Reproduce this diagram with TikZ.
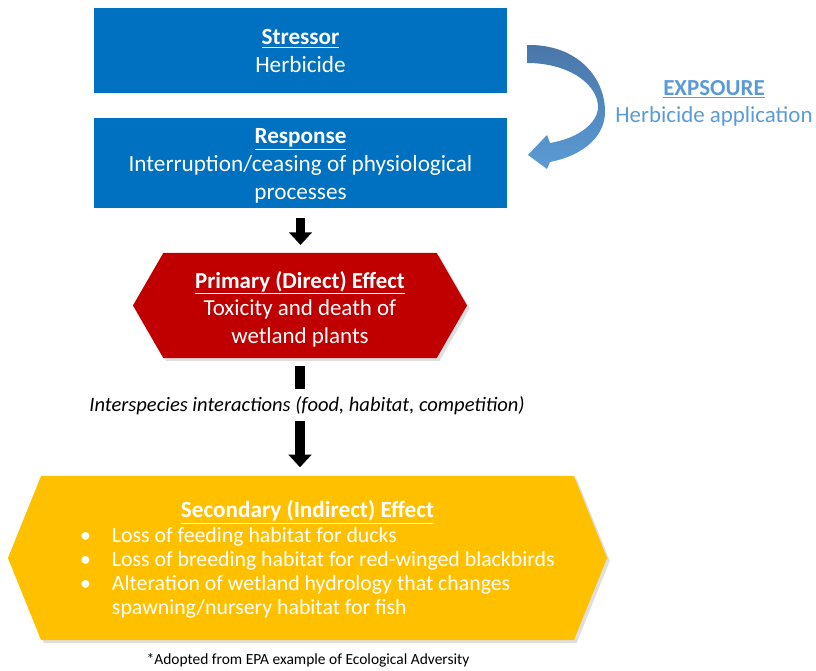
\documentclass[tikz,border=0pt]{standalone}
\usepackage{fontspec}
\setmainfont{Carlito}
\usepackage{xcolor}
\usetikzlibrary{arrows.meta,shapes.symbols,shadows}

\definecolor{boxblue}{HTML}{0070C0}
\definecolor{effred}{HTML}{C00000}
\definecolor{effgold}{HTML}{FFC000}
\definecolor{expblue}{HTML}{5B9BD5}
\definecolor{curvetop}{HTML}{4A76A8}

% heading line with a raised strut, to sit the text a little lower
\newcommand{\headline}[2]{\rule{0pt}{#1}\textbf{\underline{#2}}}

\begin{document}
\begin{tikzpicture}[x=0.025cm, y=-0.025cm,
    bluebox/.style={rectangle, fill=boxblue, text=white, minimum width=10.33cm,
        align=center, font=\fontsize{16.5}{20}\selectfont},
    hexbox/.style={signal, signal to=west and east, text=white, align=center,
        drop shadow={opacity=0.25, shadow xshift=2pt, shadow yshift=-2pt}},
    bigarrow/.style={line width=7pt, -{Triangle[width=16pt,length=9pt]}}
]
\useasboundingbox (0,0) rectangle (816,671);

% stressor and response
\node[bluebox, minimum height=2.125cm] (stressor) at (300.5, 50.5)
    {\headline{12pt}{Stressor}\\Herbicide};
\node[bluebox, minimum height=2.25cm] (response) at (300.5, 163)
    {\headline{15pt}{Response}\\Interruption/ceasing of physiological\\processes};

% exposure
\shade[top color=curvetop, bottom color=expblue]
    (527,45) .. controls (575,44) and (604,75) .. (605,110)
    .. controls (606,135) and (585,155) .. (550,162)
    -- (547,169) -- (528,155) -- (547,135) -- (550,143)
    .. controls (580,138) and (598,122) .. (598,107)
    .. controls (598,85) and (570,63) .. (527,63) -- cycle;
\node[text=expblue, align=center, font=\fontsize{16.3}{19.5}\selectfont] (exposure) at (714, 103.5)
    {\textbf{\underline{EXPSOURE}}\\Herbicide application};

% effects
\node[hexbox, fill=effred, minimum width=8.35cm, minimum height=2.625cm,
      signal pointer angle=120, font=\fontsize{16.3}{19.5}\selectfont] (primary) at (300, 305.5)
    {\headline{17pt}{Primary (Direct) Effect}\\Toxicity and death of\\wetland plants};

\node[hexbox, fill=effgold, minimum width=14.975cm, minimum height=4.1cm,
      signal pointer angle=136, font=\fontsize{15.5}{17}\selectfont] (secondary) at (307.5, 558)
    {{\fontsize{16.5}{19}\selectfont\headline{16.5pt}{Secondary (Indirect) Effect}}\\
     \begin{tabular}{@{\hspace{14pt}}l@{\hspace{15pt}}l@{}}
       \textbullet & Loss of feeding habitat for ducks\\
       \textbullet & Loss of breeding habitat for red-winged blackbirds\\
       \textbullet & Alteration of wetland hydrology that changes\\
                   & spawning/nursery habitat for fish
     \end{tabular}};

% arrows
\draw[bigarrow, shorten <=7pt, shorten >=5.5pt] (response.south) -- (response.south |- primary.north);
\draw[bigarrow, shorten <=5.5pt, shorten >=6pt] (primary.south) -- (primary.south |- secondary.north)
    node[pos=0.4, fill=white, xshift=5pt, inner ysep=5pt, font=\fontsize{14.6}{16}\selectfont\itshape] (interact)
    {Interspecies interactions (food, habitat, competition)};

\node[font=\fontsize{11}{13}\selectfont] (source) at (308, 660)
    {*Adopted from EPA example of Ecological Adversity};
\end{tikzpicture}
\end{document}
